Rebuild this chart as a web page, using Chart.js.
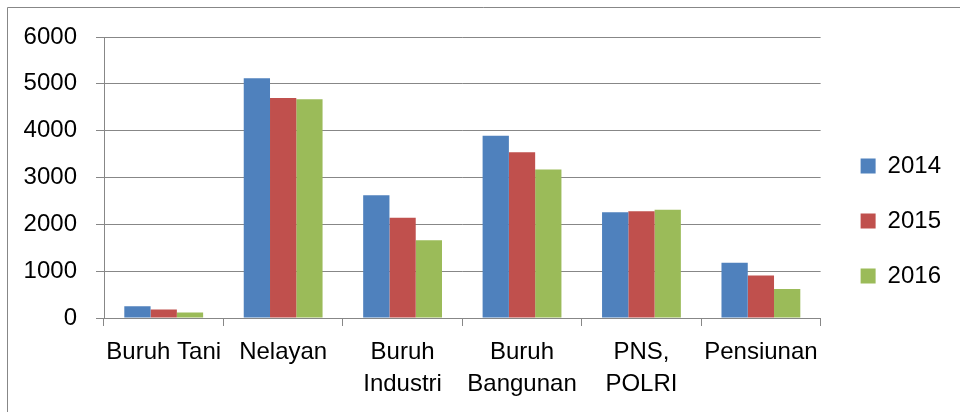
<!DOCTYPE html>
<html>
<head>
<meta charset="utf-8">
<script src="https://cdn.jsdelivr.net/npm/chart.js@4"></script>
<style>
  html, body { margin: 0; padding: 0; background: #ffffff; }
  #wrap { width: 960px; height: 412px; }
</style>
</head>
<body>
<div id="wrap"><canvas id="c" width="960" height="412"></canvas></div>
<script>
const categories = ['Buruh Tani', 'Nelayan', ['Buruh', 'Industri'], ['Buruh', 'Bangunan'], ['PNS,', 'POLRI'], 'Pensiunan'];
const seriesLabels = ['2014', '2015', '2016'];
const values2014 = [250, 5120, 2620, 3890, 2260, 1180];
const values2015 = [180, 4700, 2140, 3540, 2280, 910];
const values2016 = [120, 4670, 1660, 3170, 2310, 620];
const yTicks = [0, 1000, 2000, 3000, 4000, 5000, 6000];

const colors = ['#4F81BD', '#C0504D', '#9BBB59'];
const FONT = "'Liberation Sans', Arial, sans-serif";
const GRID = '#878787';

const framePlugin = {
  id: 'frame',
  beforeDraw(chart) {
    const ctx = chart.ctx;
    ctx.save();
    ctx.strokeStyle = GRID;
    ctx.lineWidth = 1;
    ctx.beginPath();
    ctx.moveTo(7.5, 412);
    ctx.lineTo(7.5, 7.5);
    ctx.lineTo(960, 7.5);
    ctx.stroke();
    ctx.restore();
  }
};

const legendShift = {
  id: 'legendShift',
  afterLayout(chart) {
    const l = chart.legend;
    if (l) { l.left += 9; l.right += 9; }
  }
};

new Chart(document.getElementById('c'), {
  type: 'bar',
  data: {
    labels: categories,
    datasets: [
      { label: seriesLabels[0], data: values2014, backgroundColor: colors[0] },
      { label: seriesLabels[1], data: values2015, backgroundColor: colors[1] },
      { label: seriesLabels[2], data: values2016, backgroundColor: colors[2] }
    ]
  },
  options: {
    responsive: false,
    animation: false,
    layout: { padding: { top: 37, right: 18, bottom: 7, left: 7 } },
    datasets: { bar: { categoryPercentage: 0.66, barPercentage: 1.0, borderWidth: 0 } },
    plugins: {
      tooltip: { enabled: false },
      legend: {
        position: 'right',
        align: 'center',
        labels: {
          boxWidth: 15,
          boxHeight: 15,
          padding: 31,
          color: '#000000',
          font: { family: FONT, size: 24 }
        }
      }
    },
    scales: {
      x: {
        offset: true,
        grid: { offset: true, drawOnChartArea: false, drawTicks: true, tickLength: 8, color: GRID, lineWidth: 1 },
        border: { color: GRID, width: 1 },
        ticks: { color: '#000000', padding: 10, maxRotation: 0, autoSkip: false, font: { family: FONT, size: 24, lineHeight: 1.33 } },
        afterFit(scale) { scale.height = 87; }
      },
      y: {
        min: 0,
        max: 6000,
        afterBuildTicks(scale) { scale.ticks = yTicks.map(v => ({ value: v })); },
        grid: { color: GRID, lineWidth: 1, drawTicks: true, tickLength: 8 },
        border: { color: GRID, width: 1 },
        ticks: { color: '#000000', padding: 19, font: { family: FONT, size: 24 }, callback: (v) => String(v) },
        afterFit(scale) { scale.width = 97; }
      }
    }
  },
  plugins: [framePlugin, legendShift]
});
</script>
</body>
</html>
